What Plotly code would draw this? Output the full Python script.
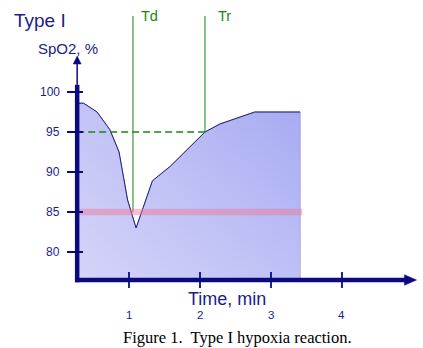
import plotly.graph_objects as go

# ---- data ----
time_min = [0.27, 0.36, 0.55, 0.73, 0.86, 0.98, 1.10, 1.33, 1.58, 2.07, 2.28, 2.77, 3.41]
spo2 = [98.6, 98.6, 97.5, 95.3, 92.5, 86.5, 83.0, 88.9, 90.7, 95.0, 96.0, 97.5, 97.5]
y_ticks = [80, 85, 90, 95, 100]
y_tick_labels = ["80", "85", "90", "95", "100"]
x_ticks = [1, 2, 3, 4]
x_tick_labels = ["1", "2", "3", "4"]
threshold = 85
t_d = 1.056
t_r = 2.07
recovery_level = 95

# ---- layout constants ----
X0, X1 = -0.817, 5.141      # x range so that axis pixels line up
Y0, Y1 = 68.0, 111.5
AX_X = 0.27                 # time where y axis sits
AX_Y = 76.5                 # value where x axis sits
NAVY = "#0a0a80"
TXT = "#1c1c8c"
GREEN = "#138a13"
SANS = "Liberation Sans, Arial, sans-serif"

fig = go.Figure()

poly_x = time_min + [time_min[-1], time_min[0]]
poly_y = spo2 + [AX_Y, AX_Y]

fig.add_trace(go.Scatter(
    x=poly_x, y=poly_y, fill="toself", mode="lines",
    line=dict(color="#9a9ad6", width=1),
    fillgradient=dict(type="horizontal",
                      colorscale=[[0, "#c4c4f6"], [1, "#a6aaf2"]]),
    hoverinfo="skip", showlegend=False))
fig.add_trace(go.Scatter(
    x=poly_x, y=poly_y, fill="toself", mode="none",
    fillgradient=dict(type="vertical",
                      colorscale=[[0, "rgba(255,255,255,0.27)"], [1, "rgba(255,255,255,0)"]]),
    hoverinfo="skip", showlegend=False))
fig.add_trace(go.Scatter(
    x=time_min, y=spo2, mode="lines",
    line=dict(color="#20207a", width=1),
    hoverinfo="skip", showlegend=False))

shapes = []
# green markers
shapes.append(dict(type="line", xref="x", yref="y", x0=t_d, x1=t_d, y0=threshold, y1=109.5,
                   line=dict(color=GREEN, width=1)))
shapes.append(dict(type="line", xref="x", yref="y", x0=t_r, x1=t_r, y0=recovery_level, y1=109.5,
                   line=dict(color=GREEN, width=1)))
shapes.append(dict(type="line", xref="x", yref="y", x0=AX_X, x1=t_r, y0=recovery_level, y1=recovery_level,
                   line=dict(color=GREEN, width=1.3, dash="7px,4px")))
# threshold band
shapes.append(dict(type="line", xref="x", yref="y", x0=0.24, x1=3.44, y0=threshold, y1=threshold,
                   line=dict(color="rgba(240,120,150,0.47)", width=6.5)))
# y axis
shapes.append(dict(type="line", xref="x", yref="y", x0=AX_X, x1=AX_X, y0=AX_Y - 0.28, y1=100.9,
                   line=dict(color=NAVY, width=4.5)))
shapes.append(dict(type="line", xref="x", yref="y", x0=AX_X, x1=AX_X, y0=100.9, y1=103.6,
                   line=dict(color=NAVY, width=1.5)))
shapes.append(dict(type="path", xref="x", yref="y",
                   path=f"M {AX_X-0.056},{103.5} L {AX_X+0.056},{103.5} L {AX_X},{104.5} Z",
                   fillcolor=NAVY, line=dict(color=NAVY, width=0.5)))
# x axis
shapes.append(dict(type="line", xref="x", yref="y", x0=AX_X - 0.03, x1=4.9, y0=AX_Y, y1=AX_Y,
                   line=dict(color=NAVY, width=4.5)))
shapes.append(dict(type="path", xref="x", yref="y",
                   path=f"M 4.88,{AX_Y+0.65} L 4.88,{AX_Y-0.65} L 5.05,{AX_Y} Z",
                   fillcolor=NAVY, line=dict(color=NAVY, width=0.5)))
# ticks
for v in y_ticks:
    shapes.append(dict(type="line", xref="x", yref="y", x0=0.127, x1=0.352, y0=v, y1=v,
                       line=dict(color=NAVY, width=2)))
for t in x_ticks:
    shapes.append(dict(type="line", xref="x", yref="y", x0=t, x1=t, y0=AX_Y - 1.0, y1=AX_Y + 1.0,
                       line=dict(color=NAVY, width=1.8)))

annotations = []
for v, lab in zip(y_ticks, y_tick_labels):
    annotations.append(dict(x=0.06, y=v, xref="x", yref="y", text=lab, showarrow=False,
                            xanchor="right", yanchor="middle",
                            font=dict(family=SANS, size=12, color=TXT)))
for t, lab in zip(x_ticks, x_tick_labels):
    annotations.append(dict(x=t, y=72.1, xref="x", yref="y", text=lab, showarrow=False,
                            xanchor="center", yanchor="middle",
                            font=dict(family=SANS, size=11.5, color=TXT)))
annotations += [
    dict(x=2.38, y=74.1, xref="x", yref="y", text="Time, min", showarrow=False,
         xanchor="center", yanchor="middle", font=dict(family=SANS, size=18, color=TXT)),
    dict(x=12 / 423, y=1 - 20 / 348, xref="paper", yref="paper", text="Type I", showarrow=False,
         xanchor="left", yanchor="middle", font=dict(family=SANS, size=19, color=TXT)),
    dict(x=36 / 423, y=1 - 49 / 348, xref="paper", yref="paper", text="SpO2, %", showarrow=False,
         xanchor="left", yanchor="middle", font=dict(family=SANS, size=15, color=TXT)),
    dict(x=139 / 423, y=1 - 16 / 348, xref="paper", yref="paper", text="Td", showarrow=False,
         xanchor="left", yanchor="middle", font=dict(family=SANS, size=14.5, color=GREEN)),
    dict(x=216 / 423, y=1 - 16 / 348, xref="paper", yref="paper", text="Tr", showarrow=False,
         xanchor="left", yanchor="middle", font=dict(family=SANS, size=14.5, color=GREEN)),
    dict(x=237 / 423, y=1 - 337 / 348, xref="paper", yref="paper",
         text="Figure 1.&nbsp; Type I hypoxia reaction.", showarrow=False,
         xanchor="center", yanchor="middle",
         font=dict(family="Liberation Serif, Times New Roman, serif", size=16.5, color="#000000")),
]

fig.update_layout(
    width=423, height=348,
    margin=dict(l=0, r=0, t=0, b=0),
    paper_bgcolor="white", plot_bgcolor="white",
    xaxis=dict(range=[X0, X1], visible=False, fixedrange=True),
    yaxis=dict(range=[Y0, Y1], visible=False, fixedrange=True),
    shapes=shapes, annotations=annotations, showlegend=False,
)

fig.write_html("out.html")
